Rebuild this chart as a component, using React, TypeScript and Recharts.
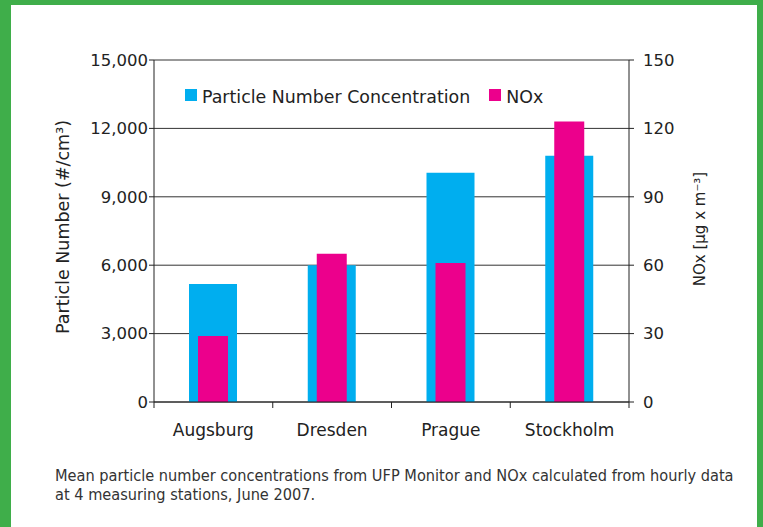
import React from 'react';
import { BarChart, Bar, XAxis, YAxis, CartesianGrid, Legend } from 'recharts';

const categories = ['Augsburg', 'Dresden', 'Prague', 'Stockholm'];
const particleNumber = [5180, 6000, 10050, 10800];
const noxValues = [29, 65, 61, 123];
const leftTicks = [0, 3000, 6000, 9000, 12000, 15000];
const rightTicks = [0, 30, 60, 90, 120, 150];
const seriesNames = ['Particle Number Concentration', 'NOx'];
const leftTitle = 'Particle Number (#/cm³)';
const rightTitle = 'NOx [µg x m⁻³]';
const captionLines = [
  'Mean particle number concentrations from UFP Monitor and NOx calculated from hourly data',
  'at 4 measuring stations, June 2007.',
];

const data = categories.map((city, i) => ({ city, pn: particleNumber[i], nox: noxValues[i] }));

const BLUE = '#00aeef';
const MAGENTA = '#ec008c';
const INK = '#222';
const SANS = '"DejaVu Sans", sans-serif';
const CONDENSED = '"Liberation Sans Narrow", "DejaVu Sans Condensed", "Roboto Condensed", sans-serif';

const CategoryTick = (props: any) => {
  const { x, y, payload, index, width } = props;
  const half = payload && typeof payload.offset === 'number' && payload.offset > 0
    ? payload.offset
    : (width || 475) / categories.length / 2;
  const axisY = y - 5;
  const isLast = index === categories.length - 1;
  return (
    <g>
      <line x1={x - half} x2={x - half} y1={axisY} y2={axisY + 6} stroke={INK} strokeWidth={1} />
      {isLast && <line x1={x + half} x2={x + half} y1={axisY} y2={axisY + 6} stroke={INK} strokeWidth={1} />}
      <text x={x} y={y + 29} textAnchor="middle" fontFamily={SANS} fontSize={17} fill={INK}>
        {payload.value}
      </text>
    </g>
  );
};

const LeftTitle = (props: any) => {
  const vb = props.viewBox || { x: 44, y: 60, width: 110, height: 342 };
  const cx = vb.x + 19;
  const cy = vb.y + vb.height / 2 - 4;
  return (
    <text x={cx} y={cy} transform={`rotate(-90 ${cx} ${cy})`} textAnchor="middle" dominantBaseline="central"
      fontFamily={SANS} fontSize={17.5} fill={INK}>
      {leftTitle}
    </text>
  );
};

const RightTitle = (props: any) => {
  const vb = props.viewBox || { x: 629, y: 60, width: 70, height: 342 };
  const cx = vb.x + 71;
  const cy = vb.y + vb.height / 2 - 2;
  return (
    <text x={cx} y={cy} transform={`rotate(-90 ${cx} ${cy})`} textAnchor="middle" dominantBaseline="central"
      fontFamily={SANS} fontSize={15} fill={INK}>
      {rightTitle}
    </text>
  );
};

const LegendContent = (props: any) => {
  const payload = [...(props.payload || [])].sort(
    (a: any, b: any) => seriesNames.indexOf(a.value) - seriesNames.indexOf(b.value)
  );
  return (
    <div style={{ display: 'flex', alignItems: 'center', fontFamily: SANS, fontSize: 17.4, color: INK, whiteSpace: 'nowrap' }}>
      {payload.map((entry: any, i: number) => (
        <div key={i} style={{ display: 'flex', alignItems: 'center', marginRight: 19 }}>
          <span style={{ display: 'inline-block', width: 12, height: 12, background: entry.color, marginRight: 5 }} />
          <span style={{ position: 'relative', top: 2 }}>{entry.value}</span>
        </div>
      ))}
    </div>
  );
};

export default function App() {
  return (
    <div style={{ position: 'absolute', left: 0, top: 0, width: 763, height: 527, background: '#3fae4a', overflow: 'hidden' }}>
      <div style={{ position: 'absolute', left: 11, top: 5, width: 746, height: 522, background: '#fff' }} />
      <div style={{ position: 'absolute', left: 0, top: 0 }}>
        <BarChart width={763} height={527} data={data} margin={{ top: 60, right: 64, bottom: 85, left: 44 }}>
          <CartesianGrid vertical={false} horizontal stroke="#333" strokeWidth={1} yAxisId="left" xAxisId="a" />
          <XAxis xAxisId="a" dataKey="city" type="category" axisLine={{ stroke: INK }} tickLine={false}
            tickSize={5} tickMargin={0} height={40} interval={0} tick={<CategoryTick />} />
          <XAxis xAxisId="b" dataKey="city" type="category" hide />
          <YAxis yAxisId="left" orientation="left" width={110} domain={[0, 15000]} ticks={leftTicks}
            tickFormatter={(v: number) => v.toLocaleString('en-US')} axisLine={{ stroke: INK }}
            tickLine={{ stroke: INK }} tickSize={5} tickMargin={1} interval={0}
            tick={{ fontFamily: SANS, fontSize: 16.5, fill: INK }} label={<LeftTitle />} />
          <YAxis yAxisId="right" orientation="right" width={70} domain={[0, 150]} ticks={rightTicks}
            axisLine={{ stroke: INK }} tickLine={{ stroke: INK }} tickSize={5} tickMargin={9} interval={0}
            tick={{ fontFamily: SANS, fontSize: 16.5, fill: INK }} label={<RightTitle />} />
          <Legend layout="horizontal" verticalAlign="middle" align="center" content={<LegendContent />}
            itemSorter={null as any}
            wrapperStyle={{ position: 'absolute', left: 185, top: 85, width: 'auto', height: 20 }} />
          <Bar xAxisId="a" yAxisId="left" dataKey="pn" name={seriesNames[0]} fill={BLUE} barSize={48} isAnimationActive={false} />
          <Bar xAxisId="b" yAxisId="right" dataKey="nox" name={seriesNames[1]} fill={MAGENTA} barSize={30} isAnimationActive={false} />
        </BarChart>
      </div>
      <div style={{ position: 'absolute', left: 55, top: 466, whiteSpace: 'nowrap', fontFamily: CONDENSED, fontSize: 16.2, lineHeight: '19px', color: '#333' }}>
        {captionLines.map((l, i) => <div key={i}>{l}</div>)}
      </div>
    </div>
  );
}
